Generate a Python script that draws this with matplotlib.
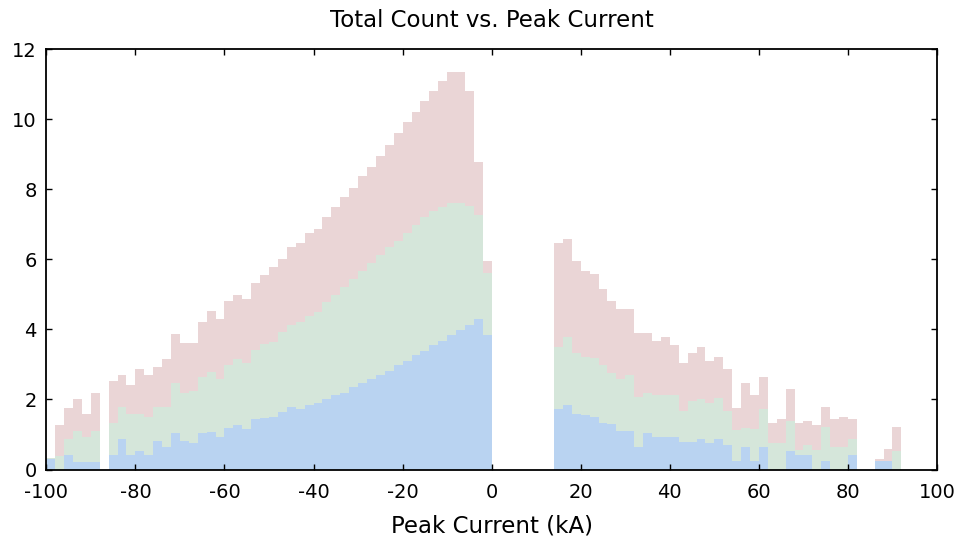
import numpy as np
import matplotlib
matplotlib.use('Agg')
from matplotlib import pyplot as plt

plt.rcParams['font.family'] = ['DejaVu Sans']
plt.rcParams['axes.unicode_minus'] = False

# bin left edges (kA), width 2
left_edges = list(range(-100, 0, 2))
right_edges = list(range(14, 92, 2))

# negative currents: blue, green, red segments
neg_blue = [0.29, 0, 0.41, 0.22, 0.22, 0.22, 0, 0.41, 0.87, 0.41,
            0.53, 0.41, 0.81, 0.65, 1.03, 0.81, 0.77, 1.03, 1.08, 0.93,
            1.20, 1.26, 1.15, 1.43, 1.48, 1.51, 1.65, 1.78, 1.72, 1.84,
            1.91, 2.00, 2.13, 2.19, 2.35, 2.46, 2.58, 2.70, 2.82, 2.99,
            3.10, 3.27, 3.39, 3.56, 3.67, 3.84, 3.97, 4.13, 4.29, 3.84]
neg_green = [0.05, 0.40, 0.45, 0.88, 0.72, 0.88, 0, 0.91, 0.91, 1.19,
             1.07, 1.10, 0.98, 1.14, 1.43, 1.38, 1.47, 1.62, 1.71, 1.65,
             1.79, 1.89, 1.90, 1.98, 2.11, 2.14, 2.29, 2.35, 2.50, 2.55,
             2.60, 2.79, 2.85, 3.03, 3.08, 3.22, 3.31, 3.43, 3.53, 3.52,
             3.65, 3.72, 3.83, 3.81, 3.81, 3.77, 3.64, 3.38, 2.98, 1.77]
neg_red = [0, 0.87, 0.89, 0.91, 0.66, 1.08, 0, 1.22, 0.92, 0.81,
           1.27, 1.19, 1.15, 1.37, 1.40, 1.43, 1.38, 1.57, 1.74, 1.72,
           1.82, 1.83, 1.82, 1.91, 1.96, 2.13, 2.07, 2.22, 2.26, 2.36,
           2.35, 2.42, 2.51, 2.56, 2.60, 2.69, 2.76, 2.81, 2.92, 3.10,
           3.16, 3.23, 3.31, 3.44, 3.62, 3.73, 3.73, 3.30, 1.50, 0.35]

# positive currents: blue, green, red segments
pos_blue = [1.73, 1.84, 1.58, 1.56, 1.49, 1.34, 1.29, 1.11, 1.11, 0.65,
            1.05, 0.94, 0.94, 0.94, 0.78, 0.78, 0.86, 0.77, 0.86, 0.70,
            0.24, 0.63, 0.24, 0.63, 0, 0, 0.53, 0.41, 0.41, 0,
            0.24, 0, 0, 0.41, 0, 0, 0.24, 0.24, 0]
pos_green = [1.78, 1.94, 1.74, 1.66, 1.69, 1.65, 1.48, 1.47, 1.59, 1.43,
             1.13, 1.19, 1.19, 1.19, 0.90, 1.17, 1.15, 1.14, 1.19, 0.98,
             0.88, 0.57, 0.92, 1.09, 0.76, 0.76, 0.86, 0.15, 0.29, 0.56,
             0.97, 0.63, 0.63, 0.45, 0, 0, 0, 0, 0.53]
pos_red = [2.95, 2.80, 2.64, 2.45, 2.40, 2.16, 2.04, 2.01, 1.89, 1.81,
           1.71, 1.55, 1.65, 1.43, 1.37, 1.37, 1.48, 1.19, 1.17, 1.18,
           0.63, 1.26, 0.97, 0.92, 0.57, 0.68, 0.90, 0.78, 0.69, 0.71,
           0.57, 0.81, 0.86, 0.58, 0, 0, 0.05, 0.35, 0.68]

edges = np.array(left_edges + right_edges)
blue = np.array(neg_blue + pos_blue)
green = np.array(neg_green + pos_green)
red = np.array(neg_red + pos_red)

fig = plt.figure(figsize=(9.65, 5.46), dpi=100)
ax = fig.add_axes([0.048, 0.14, 0.923, 0.77])

ax.bar(edges, blue, width=2, align='edge', color='#b9d3f1', linewidth=0)
ax.bar(edges, green, width=2, align='edge', bottom=blue, color='#d5e6da', linewidth=0)
ax.bar(edges, red, width=2, align='edge', bottom=blue + green, color='#ead5d6', linewidth=0)

ax.set_xlim(-100, 100)
ax.set_ylim(0, 12)
ax.set_xticks(range(-100, 101, 20))
ax.set_yticks(range(0, 13, 2))
ax.tick_params(direction='in', top=True, right=True, length=4, width=1, labelsize=14)
ax.tick_params(axis='x', pad=10)
ax.tick_params(axis='y', pad=7)
for s in ax.spines.values():
    s.set_linewidth(1.3)

ax.set_title('Total Count vs. Peak Current', fontsize=16.5, pad=16)
ax.set_xlabel('Peak Current (kA)', fontsize=16.5, labelpad=9)

fig.savefig('out.png', dpi=100)
